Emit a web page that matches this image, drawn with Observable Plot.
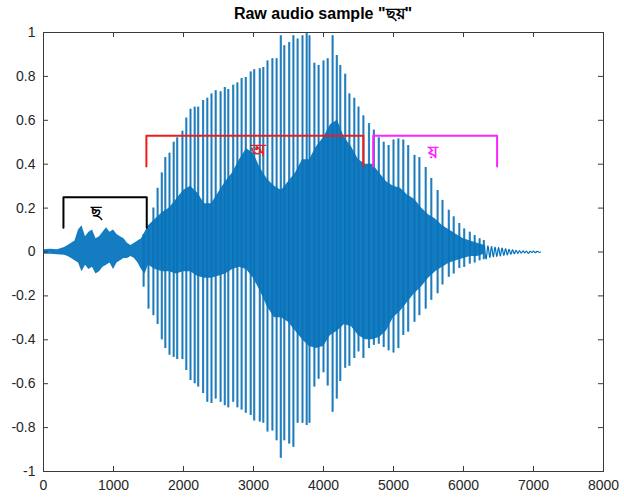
<!DOCTYPE html>
<html>
<head>
<meta charset="utf-8">
<script src="https://cdn.jsdelivr.net/npm/d3@7"></script>
<script src="https://cdn.jsdelivr.net/npm/@observablehq/plot@0.6"></script>
<style>
  body { margin: 0; background: #fff; font-family: "Liberation Sans", Arial, sans-serif; }
  #title { box-sizing: border-box; width: 624px; height: 24px; padding: 4px 21px 0 43px; text-align: center;
           font: bold 16px "Liberation Sans", Arial, sans-serif; color: #000; line-height: 20px; }
</style>
</head>
<body>
<div id="title">Raw audio sample "ছয়"</div>
<div id="chart"></div>
<script>
// ---- data ----
const xTicks = [0, 1000, 2000, 3000, 4000, 5000, 6000, 7000, 8000];
const yTicks = [-1, -0.8, -0.6, -0.4, -0.2, 0, 0.2, 0.4, 0.6, 0.8, 1];

// pitch pulses (tall spikes): sample index, positive peak, negative peak
const pulseX = [1430,1500,1570,1630,1690,1740,1800,1860,1910,1985,2040,2100,2160,2210,2280,2340,2400,2460,2530,2590,2640,2710,2770,2830,2890,2960,3010,3090,3140,3200,3270,3330,3390,3440,3510,3570,3630,3700,3760,3800,3870,3930,4000,4060,4130,4190,4240,4310,4370,4440,4500,4570,4650,4720,4790,4860,4930,5000,5070,5140,5210,5300,5370,5460,5540,5630,5700,5790,5860,5940,6010,6090,6160,6230,6290];
const pulseUp = [0.08,0.10,0.20,0.29,0.36,0.43,0.45,0.50,0.52,0.55,0.61,0.65,0.66,0.66,0.69,0.70,0.72,0.735,0.73,0.75,0.74,0.76,0.77,0.79,0.795,0.82,0.83,0.835,0.84,0.87,0.88,0.88,0.985,0.94,0.955,0.985,0.97,0.985,0.995,0.985,0.86,0.85,0.87,0.88,0.985,0.895,0.85,0.81,0.72,0.70,0.66,0.62,0.585,0.555,0.52,0.50,0.485,0.51,0.515,0.51,0.485,0.44,0.43,0.385,0.335,0.28,0.235,0.19,0.16,0.13,0.105,0.09,0.075,0.06,0.052];
const pulseDown = [-0.16,-0.26,-0.29,-0.33,-0.40,-0.44,-0.47,-0.48,-0.49,-0.49,-0.54,-0.585,-0.60,-0.615,-0.645,-0.685,-0.69,-0.67,-0.685,-0.70,-0.71,-0.685,-0.71,-0.72,-0.735,-0.745,-0.77,-0.775,-0.78,-0.82,-0.815,-0.86,-0.94,-0.86,-0.875,-0.89,-0.78,-0.78,-0.79,-0.78,-0.615,-0.58,-0.55,-0.61,-0.73,-0.67,-0.59,-0.53,-0.52,-0.485,-0.455,-0.485,-0.44,-0.425,-0.42,-0.435,-0.45,-0.46,-0.44,-0.38,-0.365,-0.32,-0.29,-0.26,-0.22,-0.19,-0.15,-0.115,-0.10,-0.075,-0.07,-0.055,-0.05,-0.04,-0.035];

// dense body of the waveform (envelope)
const envX = [0,100,200,300,350,400,450,500,550,600,650,700,750,800,850,900,950,1000,1050,1100,1150,1200,1250,1300,1350,1400,1450,1500,1600,1700,1800,1900,2000,2100,2200,2300,2400,2500,2600,2700,2800,2900,3000,3100,3200,3300,3400,3500,3600,3700,3800,3900,4000,4100,4200,4300,4400,4500,4600,4700,4800,4900,5000,5100,5200,5300,5400,5500,5600,5700,5800,5900,6000,6100,6200,6300];
const envTop = [0.01,0.012,0.01,0.02,0.03,0.04,0.05,0.10,0.12,0.07,0.09,0.10,0.06,0.07,0.09,0.11,0.09,0.10,0.08,0.07,0.06,0.04,0.03,0.04,0.05,0.06,0.09,0.12,0.15,0.18,0.20,0.24,0.28,0.30,0.27,0.22,0.22,0.27,0.32,0.36,0.42,0.47,0.45,0.38,0.33,0.30,0.28,0.32,0.36,0.42,0.42,0.48,0.52,0.58,0.60,0.52,0.48,0.42,0.40,0.40,0.36,0.32,0.30,0.29,0.26,0.24,0.20,0.17,0.15,0.12,0.10,0.08,0.06,0.05,0.04,0.03];
const envBottom = [-0.01,-0.01,-0.012,-0.015,-0.02,-0.03,-0.04,-0.05,-0.09,-0.06,-0.08,-0.07,-0.10,-0.09,-0.07,-0.06,-0.05,-0.08,-0.05,-0.04,-0.03,-0.03,-0.02,-0.03,-0.05,-0.08,-0.10,-0.06,-0.08,-0.09,-0.09,-0.10,-0.09,-0.09,-0.11,-0.12,-0.12,-0.11,-0.10,-0.08,-0.07,-0.08,-0.12,-0.18,-0.25,-0.30,-0.30,-0.32,-0.36,-0.40,-0.43,-0.44,-0.43,-0.38,-0.36,-0.33,-0.34,-0.38,-0.40,-0.40,-0.39,-0.36,-0.30,-0.27,-0.23,-0.19,-0.16,-0.12,-0.09,-0.07,-0.05,-0.04,-0.03,-0.02,-0.02,-0.01];

// decaying tail oscillation (peaks and troughs)
const tailX = [6300,6325,6350,6375,6400,6425,6450,6475,6500,6525,6550,6575,6600,6625,6650,6675,6700,6725,6750,6775,6800,6825,6850,6875,6900,6925,6950,6975,7000,7025,7050,7075,7100];
const tailY = [0.03,-0.03,0.028,-0.025,0.025,-0.022,0.022,-0.02,0.02,-0.018,0.018,-0.015,0.015,-0.013,0.012,-0.01,0.01,-0.008,0.008,-0.006,0.006,-0.005,0.005,-0.004,0.004,-0.006,0.003,-0.002,0.004,-0.003,0.003,-0.001,0];

// segment brackets
const segLabel = ["ছ", "অ", "য়"];
const segStart = [285, 1470, 4710];
const segEnd = [1475, 4570, 6480];
const segTop = [0.25, 0.53, 0.53];
const segBottom = [0.11, 0.39, 0.39];
const labelX = [745, 3070, 5570];
const labelY = [0.18, 0.46, 0.455];

// ---- build ----
const segColors = ["#000000", "#ee1c1c", "#ff22ff"];
const W = 624, H = 476, mL = 43, mR = 21, mT = 8, mB = 29;
const innerW = W - mL - mR, innerH = H - mT - mB;

const pulses = pulseX.map((x, i) => ({x, y1: pulseDown[i], y2: pulseUp[i]}));
const env = envX.map((x, i) => ({x, top: envTop[i], bottom: envBottom[i]}));
const tail = tailX.map((x, i) => ({x, y: tailY[i]}));
const brackets = [];
segStart.forEach((s, i) => {
  brackets.push({seg: i, x: s, y: segBottom[i]});
  brackets.push({seg: i, x: s, y: segTop[i]});
  brackets.push({seg: i, x: segEnd[i], y: segTop[i]});
  brackets.push({seg: i, x: segEnd[i], y: segBottom[i]});
});
const labels = segLabel.map((t, i) => ({t, x: labelX[i], y: labelY[i], seg: i}));

const axisColor = "#3a3a3a";
const chart = Plot.plot({
  width: W, height: H,
  marginLeft: mL, marginRight: mR, marginTop: mT, marginBottom: mB,
  style: {fontFamily: "'Liberation Sans', Arial, sans-serif", fontSize: "14px", color: "#262626", background: "#fff"},
  x: {domain: [0, 8000]},
  y: {domain: [-1, 1]},
  marks: [
    Plot.ruleX(pulses, {x: "x", y1: "y1", y2: "y2", stroke: "#3d93cc", strokeWidth: 2.2}),
    Plot.areaY(env, {x: "x", y1: "bottom", y2: "top", fill: "#0072BD", fillOpacity: 0.92}),
    Plot.ruleX(pulses, {x: "x", y1: "y1", y2: "y2", stroke: "#1670b0", strokeWidth: 0.8}),
    Plot.line(tail, {x: "x", y: "y", stroke: "#0072BD", strokeWidth: 1.2, curve: "natural"}),
    Plot.line(brackets, {x: "x", y: "y", z: "seg", stroke: d => segColors[d.seg], strokeWidth: 2}),
    Plot.text(labels, {x: "x", y: "y", text: "t", fill: d => segColors[d.seg], fontSize: 17, fontWeight: "bold"}),
    Plot.frame({stroke: axisColor}),
    Plot.tickX(xTicks, {x: d => d, stroke: axisColor, insetTop: innerH - 5}),
    Plot.tickX(xTicks, {x: d => d, stroke: axisColor, insetBottom: innerH - 5}),
    Plot.tickY(yTicks, {y: d => d, stroke: axisColor, insetRight: innerW - 5}),
    Plot.tickY(yTicks, {y: d => d, stroke: axisColor, insetLeft: innerW - 5}),
    Plot.axisX({ticks: xTicks, tickSize: 0, tickPadding: 9, tickFormat: d => String(d), label: null, fill: "#262626"}),
    Plot.axisY({ticks: yTicks, tickSize: 0, tickPadding: 8, tickFormat: d => String(d), label: null, fill: "#262626"})
  ]
});
document.getElementById("chart").appendChild(chart);
</script>
</body>
</html>
